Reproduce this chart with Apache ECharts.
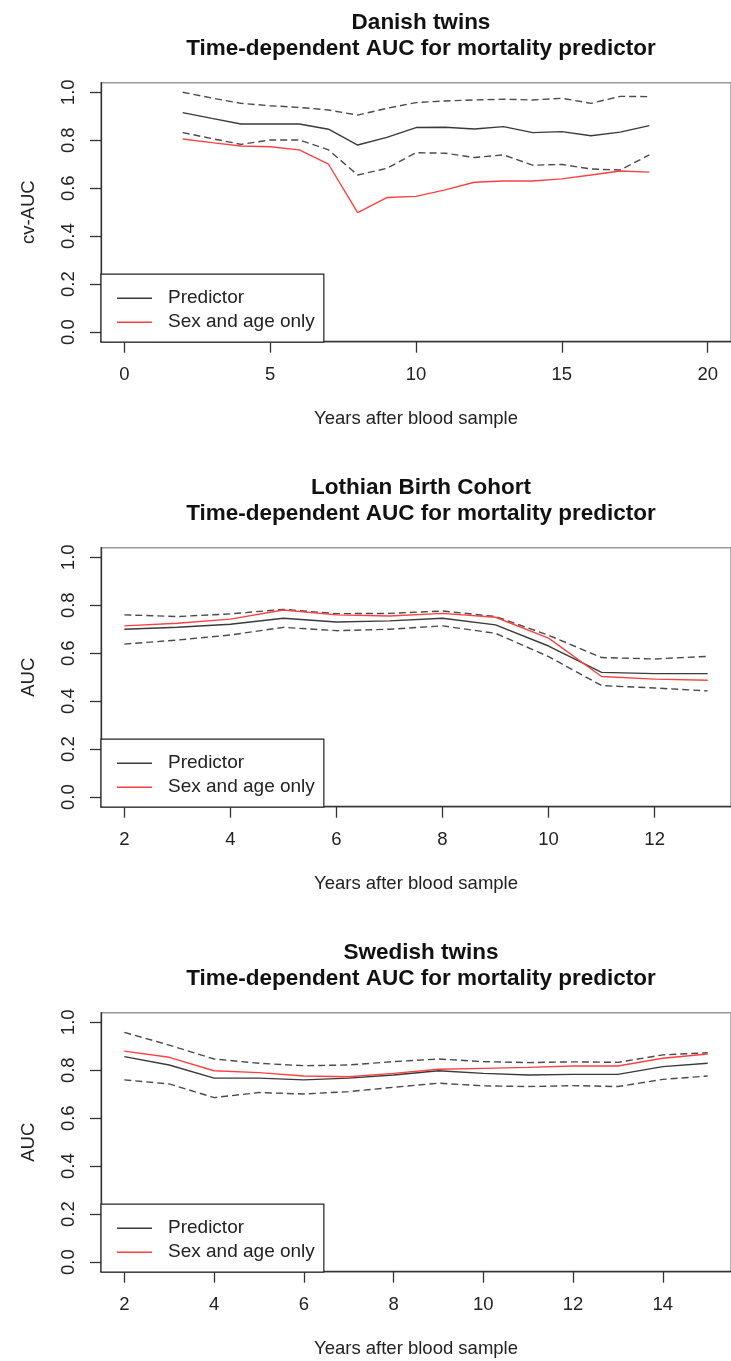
<!DOCTYPE html>
<html>
<head>
<meta charset="utf-8">
<script src="https://cdn.jsdelivr.net/npm/echarts/dist/echarts.min.js"></script>
<style>
html,body{margin:0;padding:0;background:#fff;}
#chart{width:731px;height:1361px;}
</style>
</head>
<body>
<div id="chart"></div>
<script>
// ---------- data ----------
const titles = [
  ['Danish twins', 'Time-dependent AUC for mortality predictor'],
  ['Lothian Birth Cohort', 'Time-dependent AUC for mortality predictor'],
  ['Swedish twins', 'Time-dependent AUC for mortality predictor']
];
const yNames = ['cv-AUC', 'AUC', 'AUC'];
const xName = 'Years after blood sample';
const legendNames = ['Predictor', 'Sex and age only'];
const yTicks = [0, 0.2, 0.4, 0.6, 0.8, 1.0];

const danishYears = [2,3,4,5,6,7,8,9,10,11,12,13,14,15,16,17,18];
const danishPred  = [0.915,0.891,0.868,0.868,0.868,0.846,0.780,0.812,0.853,0.854,0.847,0.857,0.832,0.836,0.819,0.834,0.861];
const danishHi    = [1.000,0.976,0.954,0.944,0.937,0.926,0.905,0.933,0.957,0.964,0.968,0.971,0.968,0.975,0.954,0.983,0.982];
const danishLo    = [0.832,0.807,0.783,0.801,0.801,0.760,0.655,0.683,0.748,0.746,0.728,0.739,0.696,0.699,0.680,0.676,0.739];
const danishSex   = [0.805,0.790,0.776,0.773,0.760,0.700,0.498,0.561,0.566,0.593,0.625,0.630,0.630,0.639,0.655,0.672,0.667];
const danishXTicks = [0,5,10,15,20];

const lothianYears = [2,3,4,5,6,7,8,9,10,11,12,13];
const lothianPred  = [0.700,0.708,0.721,0.746,0.730,0.735,0.746,0.718,0.630,0.520,0.515,0.515];
const lothianHi    = [0.760,0.753,0.764,0.783,0.765,0.766,0.776,0.753,0.675,0.582,0.576,0.587];
const lothianLo    = [0.638,0.655,0.676,0.708,0.694,0.700,0.714,0.683,0.586,0.465,0.455,0.443];
const lothianSex   = [0.714,0.725,0.742,0.780,0.760,0.755,0.766,0.750,0.663,0.503,0.492,0.487];
const lothianXTicks = [2,4,6,8,10,12];

const swedishYears = [2,3,4,5,6,7,8,9,10,11,12,13,14,15];
const swedishPred  = [0.857,0.822,0.767,0.767,0.760,0.767,0.780,0.798,0.787,0.780,0.783,0.783,0.815,0.829];
const swedishHi    = [0.958,0.905,0.847,0.829,0.819,0.822,0.836,0.847,0.836,0.832,0.835,0.833,0.864,0.873];
const swedishLo    = [0.760,0.743,0.686,0.707,0.701,0.711,0.729,0.746,0.735,0.732,0.736,0.732,0.762,0.776];
const swedishSex   = [0.880,0.854,0.798,0.790,0.776,0.773,0.787,0.804,0.808,0.812,0.818,0.818,0.850,0.868];
const swedishXTicks = [2,4,6,8,10,12,14];

// ---------- layout / style ----------
const panels = [
  {years: danishYears, pred: danishPred, hi: danishHi, lo: danishLo, sex: danishSex, xTicks: danishXTicks},
  {years: lothianYears, pred: lothianPred, hi: lothianHi, lo: lothianLo, sex: lothianSex, xTicks: lothianXTicks},
  {years: swedishYears, pred: swedishPred, hi: swedishHi, lo: swedishLo, sex: swedishSex, xTicks: swedishXTicks}
];
const FONT = '"Liberation Sans", Arial, Helvetica, sans-serif';
const PANEL_STEP = 465;
const GRID_LEFT = 101, GRID_TOP0 = 82.7, GRID_W = 640, GRID_H = 259;
const AXIS_COL = '#333';
const PRED_COL = '#3a3a3a', CI_COL = '#4a4a4a', SEX_COL = '#ff4040';
const FS = 18.5, LFS = 19;

const grids = [], xAxes = [], yAxes = [], series = [], legends = [], graphics = [];

function pairs(xs, ys) { return xs.map((x, i) => [x, ys[i]]); }

panels.forEach((p, k) => {
  const top = GRID_TOP0 + k * PANEL_STEP;
  grids.push({left: GRID_LEFT, top: top, width: GRID_W, height: GRID_H,
    show: true, borderColor: '#999', borderWidth: 1.5, backgroundColor: 'transparent'});
  const xmin = p.years[0], xmaxD = p.years[p.years.length - 1];
  const lo = Math.min(p.xTicks[0], xmin), hi = Math.max(p.xTicks[p.xTicks.length - 1], xmaxD);
  const pad = (hi - lo) * 0.04;
  xAxes.push({
    type: 'value', gridIndex: k, min: lo - pad, max: hi + pad,
    name: xName, nameLocation: 'middle', nameGap: 68,
    nameTextStyle: {fontFamily: FONT, fontSize: FS, color: '#222'},
    axisLine: {show: true, onZero: false, lineStyle: {color: AXIS_COL, width: 1.3}},
    axisTick: {show: true, customValues: p.xTicks, length: 11, lineStyle: {color: AXIS_COL, width: 1.3}},
    axisLabel: {customValues: p.xTicks, margin: 24, fontFamily: FONT, fontSize: FS, color: '#222'},
    splitLine: {show: false}
  });
  yAxes.push({
    type: 'value', gridIndex: k, min: -0.04, max: 1.04,
    name: yNames[k], nameLocation: 'middle', nameGap: 63, nameRotate: 90,
    nameTextStyle: {fontFamily: FONT, fontSize: FS, color: '#222'},
    axisLine: {show: true, onZero: false, lineStyle: {color: AXIS_COL, width: 1.3}},
    axisTick: {show: true, customValues: yTicks, length: 11, lineStyle: {color: AXIS_COL, width: 1.3}},
    axisLabel: {customValues: yTicks, rotate: 90, margin: 23, fontFamily: FONT, fontSize: FS, color: '#222',
      formatter: v => Number(v).toFixed(1)},
    splitLine: {show: false}
  });
  const common = {type: 'line', xAxisIndex: k, yAxisIndex: k, symbol: 'none', animation: false, silent: true};
  series.push(Object.assign({}, common, {name: 'Upper limit', data: pairs(p.years, p.hi), color: CI_COL,
    lineStyle: {color: CI_COL, width: 1.4, type: [7, 4]}}));
  series.push(Object.assign({}, common, {name: 'Lower limit', data: pairs(p.years, p.lo), color: CI_COL,
    lineStyle: {color: CI_COL, width: 1.4, type: [7, 4]}}));
  series.push(Object.assign({}, common, {name: legendNames[0], data: pairs(p.years, p.pred), color: PRED_COL,
    lineStyle: {color: PRED_COL, width: 1.4}}));
  series.push(Object.assign({}, common, {name: legendNames[1], data: pairs(p.years, p.sex), color: SEX_COL,
    lineStyle: {color: SEX_COL, width: 1.4}}));
  legends.push({
    data: legendNames, orient: 'vertical', left: GRID_LEFT, top: top + 191.5,
    icon: 'rect', itemWidth: 35, itemHeight: 1.5, itemGap: 4,
    padding: [14, 9, 10, 16], borderColor: '#222', borderWidth: 1.2, backgroundColor: '#fff',
    selectedMode: false,
    textStyle: {fontFamily: FONT, fontSize: LFS, color: '#222', lineHeight: 20, padding: [0, 0, 0, 11]}
  });
  graphics.push({type: 'text', x: 421, y: 23 + k * PANEL_STEP,
    style: {text: titles[k][0], align: 'center', verticalAlign: 'middle', font: 'bold 22.5px ' + FONT, fill: '#111'}});
  graphics.push({type: 'text', x: 421, y: 49 + k * PANEL_STEP,
    style: {text: titles[k][1], align: 'center', verticalAlign: 'middle', font: 'bold 22.5px ' + FONT, fill: '#111'}});
});

const chart = echarts.init(document.getElementById('chart'), null, {renderer: 'canvas'});
chart.setOption({
  animation: false,
  backgroundColor: '#fff',
  grid: grids, xAxis: xAxes, yAxis: yAxes, series: series, legend: legends,
  graphic: graphics
});
</script>
</body>
</html>
